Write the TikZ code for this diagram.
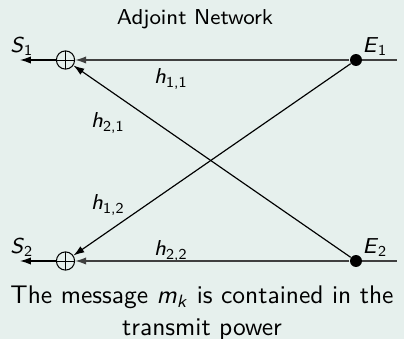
\documentclass[tikz,border=0pt]{standalone}
\usepackage{fontspec}
\renewcommand\familydefault{\sfdefault}
\usetikzlibrary{arrows.meta}
\definecolor{bgc}{RGB}{230,240,237}
\newcommand{\vsub}[2]{\textit{#1}\textsubscript{#2}}
\begin{document}
\begin{tikzpicture}[x=0.3846pt,y=-0.3846pt,
  lbl/.style={font=\fontsize{8.3}{10}\selectfont, inner sep=0pt},
  sumnode/.style={circle,draw,minimum size=7pt,inner sep=0pt,line width=0.4pt,
    path picture={\draw[line width=0.3pt] (path picture bounding box.north)--(path picture bounding box.south)
      (path picture bounding box.west)--(path picture bounding box.east);}},
  srcdot/.style={circle,fill=black,minimum size=4.6pt,inner sep=0pt},
  tip/.style={-{Latex[length=4.2pt,width=2.8pt]}},
  hline/.style={draw=black!75,line width=0.6pt},
  dline/.style={draw=black,line width=0.45pt}
]
\fill[bgc] (0,0) rectangle (404,339);
\useasboundingbox (0,0) rectangle (404,339);

\node[lbl] (title) at (195,19) {Adjoint Network};

\node[sumnode] (c1) at (65.5,60) {};
\node[sumnode] (c2) at (65.5,261) {};
\node[srcdot] (e1) at (356,60) {};
\node[srcdot] (e2) at (356,261) {};
\coordinate (r1) at (397,60);
\coordinate (r2) at (397,261);
\coordinate (s1) at (20,60);
\coordinate (s2) at (20,261);

\node[lbl] (ls1) at (22,46) {\vsub{S}{1}};
\node[lbl] (ls2) at (22,247) {\vsub{S}{2}};
\node[lbl] (le1) at (375,47) {\vsub{E}{1}};
\node[lbl] (le2) at (375,248) {\vsub{E}{2}};
\node[lbl] (h11) at (171,79) {\vsub{h}{1,1}};
\node[lbl] (h21) at (108,123) {\vsub{h}{2,1}};
\node[lbl] (h12) at (108,205) {\vsub{h}{1,2}};
\node[lbl] (h22) at (171,251) {\vsub{h}{2,2}};

\draw[hline] (r1) -- (e1);
\draw[hline] (r2) -- (e2);
\draw[hline,tip] (e1) -- (c1);
\draw[hline,tip] (e2) -- (c2);
\draw[dline,tip] (e1) -- (c2);
\draw[dline,tip] (e2) -- (c1);
\draw[dline,tip] (c1) -- (s1);
\draw[dline,tip] (c2) -- (s2);

\node[font=\fontsize{9.8}{12.3}\selectfont, align=center, inner sep=0pt, anchor=north] (cap) at (202,285)
  {The message \vsub{m}{\textit{k}} is contained in the\\ transmit power};
\end{tikzpicture}
\end{document}
